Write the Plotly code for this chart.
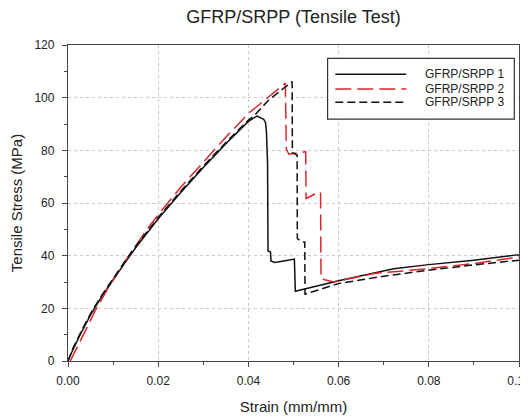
import plotly.graph_objects as go

# ---- data ----
s1_x = [0, 0.001, 0.003, 0.005, 0.0075, 0.01, 0.0125, 0.015, 0.0175, 0.02, 0.025, 0.03, 0.035, 0.04,
        0.0419, 0.0434, 0.0438, 0.0440, 0.04425, 0.04435, 0.0449, 0.0450, 0.0458, 0.0467, 0.0474,
        0.0485, 0.0502, 0.0503, 0.0504, 0.06, 0.0722, 0.08, 0.09, 0.0996, 0.1]
s1_y = [0, 4, 11, 17.5, 24.5, 31, 37, 43, 48.5, 54, 64, 73.5, 82.5, 91,
        93.0, 91.8, 90.5, 87, 75, 41.8, 41.4, 38.0, 37.4, 37.6, 37.9,
        38.2, 38.7, 30, 26.5, 30.5, 35.0, 36.6, 38.3, 40.3, 40.3]

s2_x = [0.0005, 0.002, 0.004, 0.006, 0.008, 0.01, 0.0125, 0.015, 0.0175, 0.02, 0.025, 0.03, 0.035,
        0.04, 0.0445, 0.0482, 0.0484, 0.0490, 0.0527, 0.0528, 0.0552, 0.0560, 0.0561, 0.0589,
        0.0678, 0.08, 0.09, 0.1]
s2_y = [0, 5, 12, 19, 25, 31, 37.5, 44, 50, 55.5, 66, 75.5, 85,
        94, 100.5, 105.5, 80.5, 78.5, 79.5, 61.7, 63.8, 64, 31.2, 30.0,
        33.2, 35.1, 37, 39.5]

s3_x = [0, 0.001, 0.003, 0.005, 0.0075, 0.01, 0.0125, 0.015, 0.0175, 0.02, 0.025, 0.03, 0.035, 0.04,
        0.0412, 0.0445, 0.0497, 0.04975, 0.0508, 0.05085, 0.0519, 0.0525, 0.05255, 0.06, 0.07,
        0.08, 0.09, 0.1]
s3_y = [0, 4.5, 11.5, 18, 25, 31.5, 37.5, 43.5, 49, 54.5, 64.5, 74, 83, 91.5,
        93, 99.1, 106.1, 79.1, 78.2, 46.5, 45.2, 45.2, 25.4, 29.4, 32.2,
        34.5, 36.5, 38.3]

names = ["GFRP/SRPP 1", "GFRP/SRPP 2", "GFRP/SRPP 3"]
x_ticks = [0.0, 0.02, 0.04, 0.06, 0.08, 0.10]
x_tick_labels = ["0.00", "0.02", "0.04", "0.06", "0.08", "0.10"]

FONT = "Liberation Sans, Arial, sans-serif"
colors = ["#111111", "#d9262b", "#111111"]
dashes = ["solid", "16px,6px", "8px,4px"]

fig = go.Figure()
for xs, ys, nm, c, d in zip([s1_x, s2_x, s3_x], [s1_y, s2_y, s3_y], names, colors, dashes):
    fig.add_trace(go.Scatter(x=xs, y=ys, mode="lines", name=nm,
                             line=dict(color=c, width=1.5, dash=d)))

axis_common = dict(
    showline=True, linecolor="#444444", linewidth=1.3, mirror=True,
    ticks="outside", ticklen=5, tickwidth=1, tickcolor="#444444",
    showgrid=True, gridcolor="#c8c8c8", griddash="dot", gridwidth=1,
    zeroline=False, automargin=False, ticklabeloverflow="allow",
    tickfont=dict(family=FONT, size=12, color="#222222"),
)

fig.update_xaxes(range=[0, 0.1], tickvals=x_ticks, ticktext=x_tick_labels, ticklabelstandoff=3,
                 minor=dict(ticks="outside", ticklen=3, dtick=0.01, tickcolor="#444444"),
                 title=dict(text="Strain (mm/mm)", font=dict(family=FONT, size=15, color="#222222"), standoff=14),
                 **axis_common)
fig.update_yaxes(range=[0, 120], dtick=20, ticklabelstandoff=5,
                 minor=dict(ticks="outside", ticklen=3, dtick=10, tickcolor="#444444"),
                 title=dict(text="Tensile Stress (MPa)", font=dict(family=FONT, size=15, color="#222222"), standoff=8),
                 **axis_common)

# legend box drawn in paper coordinates (layout decoration)
leg_x0, leg_x1, leg_y0, leg_y1 = 0.5756, 0.9896, 0.7656, 0.9579
line_x0, line_x1, text_x = 0.5927, 0.7501, 0.7871
row_y = [0.9072, 0.8606, 0.8185]
shapes = [dict(type="rect", xref="paper", yref="paper", x0=leg_x0, x1=leg_x1, y0=leg_y0, y1=leg_y1,
               line=dict(color="#333333", width=1.2), fillcolor="white", layer="above")]
annotations = []
for ry, nm, c, d in zip(row_y, names, colors, dashes):
    shapes.append(dict(type="line", xref="paper", yref="paper", x0=line_x0, x1=line_x1, y0=ry, y1=ry,
                       line=dict(color=c, width=1.5, dash=d), layer="above"))
    annotations.append(dict(xref="paper", yref="paper", x=text_x, y=ry, text=nm, showarrow=False,
                            xanchor="left", yanchor="middle",
                            font=dict(family=FONT, size=12, color="#222222")))

# The page body adds an 8px margin, so the figure is sized to fill the rest of the window.
fig.update_layout(
    width=520, height=411,
    margin=dict(l=60, r=9, t=37, b=58),
    paper_bgcolor="white", plot_bgcolor="white",
    title=dict(text="GFRP/SRPP (Tensile Test)", x=0.5, xref="paper", xanchor="center",
               y=0.98, yref="container", yanchor="middle",
               font=dict(family=FONT, size=18, color="#222222")),
    font=dict(family=FONT, color="#222222"),
    showlegend=False,
    shapes=shapes,
    annotations=annotations,
)

fig.write_html("out.html")
